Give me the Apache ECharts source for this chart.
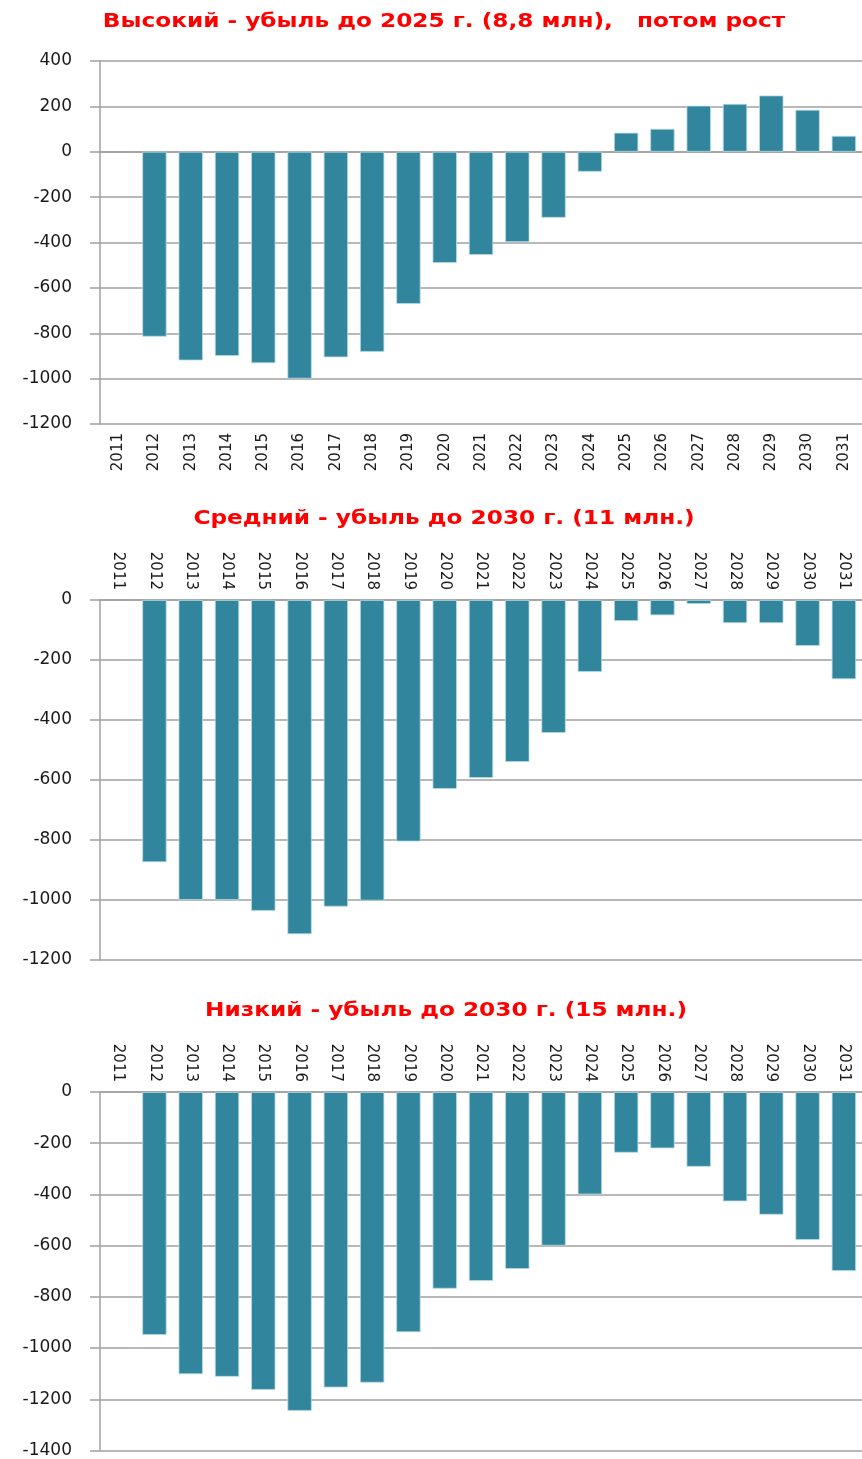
<!DOCTYPE html>
<html>
<head>
<meta charset="utf-8">
<script src="https://cdn.jsdelivr.net/npm/echarts@6/dist/echarts.min.js"></script>
<style>
  html, body { margin: 0; padding: 0; background: #fff; }
  #chart { width: 862px; height: 1459px; }
</style>
</head>
<body>
<div id="chart"></div>
<script>
  // годы и значения (тыс. чел.)
  const years = ['2011', '2012', '2013', '2014', '2015', '2016', '2017', '2018', '2019', '2020', '2021',
    '2022', '2023', '2024', '2025', '2026', '2027', '2028', '2029', '2030', '2031'];
  const highValues = [null, -815, -920, -900, -932, -1000, -906, -882, -671, -490, -455,
    -398, -291, -88, 84, 101, 203, 211, 248, 185, 70];
  const midValues = [null, -874, -1000, -1000, -1036, -1114, -1022, -1002, -805, -630, -593,
    -540, -443, -240, -70, -51, -13, -77, -77, -153, -264];
  const lowValues = [null, -949, -1102, -1112, -1163, -1245, -1154, -1135, -938, -768, -738,
    -691, -600, -400, -237, -220, -292, -427, -479, -578, -699];
  const titles = [
    'Высокий - убыль до 2025 г. (8,8 млн),   потом рост',
    'Средний - убыль до 2030 г. (11 млн.)',
    'Низкий - убыль до 2030 г. (15 млн.)'
  ];

  const barColor = '#31859c';
  const lineColor = '#a0a0a0';
  const textFont = 'DejaVu Sans';

  const chart = echarts.init(document.getElementById('chart'));

  const grids = [
    { left: 100, top: 61, width: 762, height: 363 },
    { left: 100, top: 600, width: 762, height: 360 },
    { left: 100, top: 1092, width: 762, height: 360 }
  ];

  const yRanges = [
    { min: -1200, max: 400 },
    { min: -1200, max: 0 },
    { min: -1400, max: 0 }
  ];

  const yAxis = yRanges.map((r, i) => ({
    type: 'value',
    gridIndex: i,
    min: r.min,
    max: r.max,
    interval: 200,
    axisLine: { show: true, lineStyle: { color: lineColor, width: 1.5 } },
    axisTick: { show: true, length: 10, lineStyle: { color: lineColor, width: 1.5 } },
    axisLabel: {
      fontFamily: textFont, fontSize: 17, color: '#1a1a1a', margin: 28,
      formatter: (v) => String(v)
    },
    splitLine: { lineStyle: { color: lineColor, width: 1.5 } }
  }));

  const catLabel = (margin) => ({
    rotate: 90,
    interval: 0,
    fontFamily: textFont,
    fontSize: 15,
    color: '#1a1a1a',
    margin: margin
  });

  const xAxis = [
    // верхний график: линия по нулю, подписи внизу
    {
      type: 'category', gridIndex: 0, data: years, position: 'bottom',
      axisLine: { onZero: true, lineStyle: { color: lineColor, width: 1.5 } },
      axisTick: { length: 6, lineStyle: { color: lineColor, width: 1.5 } },
      axisLabel: { show: false }
    },
    {
      type: 'category', gridIndex: 0, data: years, position: 'bottom',
      axisLine: { show: false, onZero: false },
      axisTick: { show: false },
      axisLabel: catLabel(9)
    },
    {
      type: 'category', gridIndex: 1, data: years, position: 'top',
      axisLine: { onZero: false, lineStyle: { color: lineColor, width: 1.5 } },
      axisTick: { inside: true, length: 6, lineStyle: { color: lineColor, width: 1.5 } },
      axisLabel: catLabel(10)
    },
    {
      type: 'category', gridIndex: 2, data: years, position: 'top',
      axisLine: { onZero: false, lineStyle: { color: lineColor, width: 1.5 } },
      axisTick: { inside: true, length: 6, lineStyle: { color: lineColor, width: 1.5 } },
      axisLabel: catLabel(10)
    }
  ];

  const barSeries = (data, xi, yi) => ({
    type: 'bar',
    data: data,
    xAxisIndex: xi,
    yAxisIndex: yi,
    barWidth: '67%',
    itemStyle: { color: barColor, borderColor: '#b8dbe5', borderWidth: 0.8 },
    silent: true,
    animation: false
  });

  // заголовки — растянутый по ширине жирный шрифт, как в исходнике
  const titleCenters = [[444, 22], [444, 519], [446, 1011]];

  const option = {
    animation: false,
    graphic: titles.map((t, i) => ({
      type: 'text',
      x: titleCenters[i][0],
      y: titleCenters[i][1],
      scaleX: 1.16,
      silent: true,
      style: {
        text: t,
        fontFamily: textFont,
        fontSize: 20,
        fontWeight: 'bold',
        fill: '#ff0000',
        textAlign: 'center',
        textVerticalAlign: 'middle'
      }
    })),
    grid: grids,
    xAxis: xAxis,
    yAxis: yAxis,
    series: [
      barSeries(highValues, 0, 0),
      barSeries(midValues, 2, 1),
      barSeries(lowValues, 3, 2)
    ]
  };

  chart.setOption(option);
</script>
</body>
</html>
